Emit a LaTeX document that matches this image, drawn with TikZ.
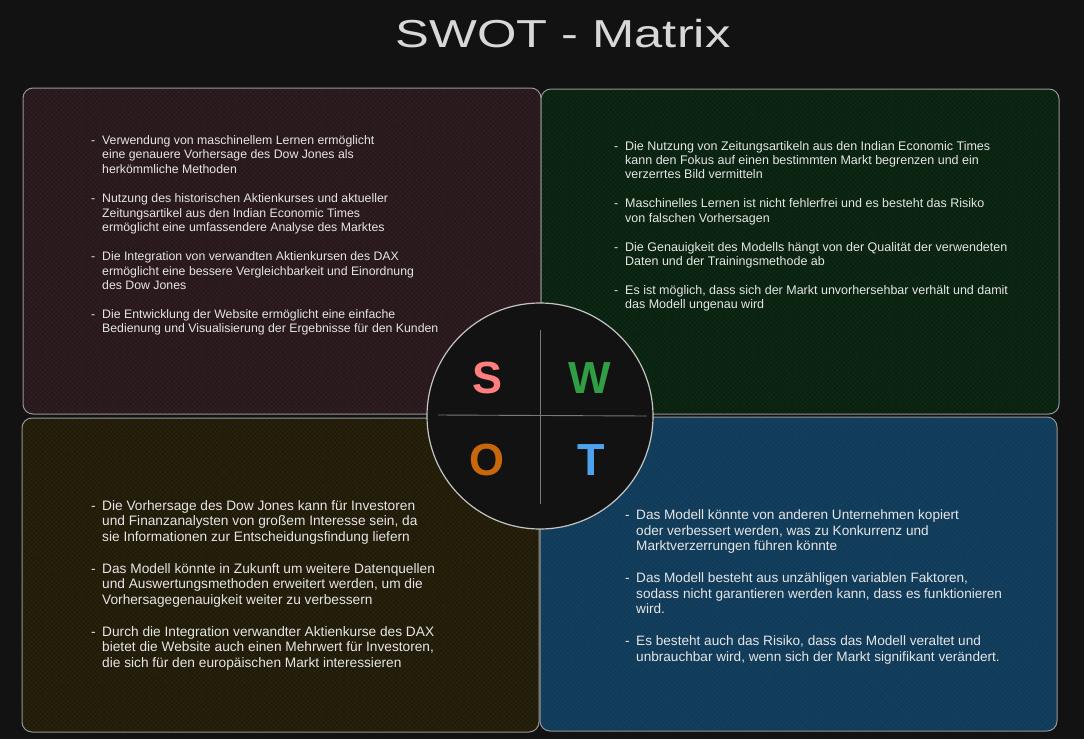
\documentclass[tikz,border=0pt]{standalone}
\usepackage{fontspec}
\setmainfont{Liberation Sans}
\usetikzlibrary{patterns.meta}
\definecolor{bg}{HTML}{121212}
\definecolor{boxline}{HTML}{959595}
\definecolor{circline}{HTML}{C4C4C4}
\definecolor{crossline}{HTML}{7A7A7A}
\definecolor{txtc}{HTML}{E6E6E6}
\definecolor{titlec}{HTML}{D8D8D8}
\definecolor{sbase}{HTML}{2E1D21}
\definecolor{shatch}{HTML}{221418}
\definecolor{wbase}{HTML}{0D2814}
\definecolor{whatch}{HTML}{081C0D}
\definecolor{obase}{HTML}{28210C}
\definecolor{ohatch}{HTML}{1B1607}
\definecolor{tbase}{HTML}{14405F}
\definecolor{thatch}{HTML}{103754}
\definecolor{sletter}{HTML}{FF7E7E}
\definecolor{wletter}{HTML}{2F9E44}
\definecolor{oletter}{HTML}{C8680A}
\definecolor{tletter}{HTML}{4DA3EE}
\newcommand\dsh{\makebox[11pt][l]{-}}
\newcommand\ind{\makebox[11pt]{}}
\begin{document}
\begin{tikzpicture}[x=1pt,y=-1pt,
  quad/.style 2 args={preaction={fill=#1},
    preaction={pattern={Lines[angle=45,distance=3.2pt,line width=0.35pt]},pattern color=#2},
    pattern={Lines[angle=-45,distance=3.2pt,line width=0.35pt]},pattern color=#2,
    draw=boxline, line width=1pt, rounded corners=10pt, inner sep=0pt},
  txt/.style={text=txtc, align=left, anchor=north west, inner sep=0pt},
  letter/.style={font=\fontsize{45}{45}\selectfont\bfseries, inner sep=0pt},
  cross/.style={draw=crossline, line width=0.9pt}
]
\fill[bg] (0,0) rectangle (1084,739);
\useasboundingbox (0,0) rectangle (1084,739);

\node[text=titlec, inner sep=0pt] (title) at (563,34)
  {\fontsize{39}{40}\selectfont\scalebox{1.3}[1]{SWOT - Matrix}};

\node[quad={sbase}{shatch}, minimum width=518pt, minimum height=326pt] (Sbox) at (282,251) {};
\node[quad={wbase}{whatch}, minimum width=518pt, minimum height=325pt] (Wbox) at (800,251.5) {};
\node[quad={obase}{ohatch}, minimum width=517pt, minimum height=314pt] (Obox) at (280.5,575) {};
\node[quad={tbase}{thatch}, minimum width=517pt, minimum height=314pt] (Tbox) at (798.5,574) {};

\node[txt, font=\fontsize{12.3}{14.5}\selectfont] (Stext) at (91,135) {%
\dsh Verwendung von maschinellem Lernen ermöglicht\\
\ind eine genauere Vorhersage des Dow Jones als\\
\ind herkömmliche Methoden\\[15pt]
\dsh Nutzung des historischen Aktienkurses und aktueller\\
\ind Zeitungsartikel aus den Indian Economic Times\\
\ind ermöglicht eine umfassendere Analyse des Marktes\\[14.5pt]
\dsh Die Integration von verwandten Aktienkursen des DAX\\
\ind ermöglicht eine bessere Vergleichbarkeit und Einordnung\\
\ind des Dow Jones\\[14pt]
\dsh Die Entwicklung der Website ermöglicht eine einfache\\
\ind Bedienung und Visualisierung der Ergebnisse für den Kunden};

\node[txt, font=\fontsize{12.5}{14.2}\selectfont] (Wtext) at (614,141) {%
\dsh Die Nutzung von Zeitungsartikeln aus den Indian Economic Times\\
\ind kann den Fokus auf einen bestimmten Markt begrenzen und ein\\
\ind verzerrtes Bild vermitteln\\[15pt]
\dsh Maschinelles Lernen ist nicht fehlerfrei und es besteht das Risiko\\
\ind von falschen Vorhersagen\\[15pt]
\dsh Die Genauigkeit des Modells hängt von der Qualität der verwendeten\\
\ind Daten und der Trainingsmethode ab\\[14.5pt]
\dsh Es ist möglich, dass sich der Markt unvorhersehbar verhält und damit\\
\ind das Modell ungenau wird};

\node[txt, font=\fontsize{13.7}{15.3}\selectfont] (Otext) at (91,500.5) {%
\dsh Die Vorhersage des Dow Jones kann für Investoren\\
\ind und Finanzanalysten von großem Interesse sein, da\\
\ind sie Informationen zur Entscheidungsfindung liefern\\[17pt]
\dsh Das Modell könnte in Zukunft um weitere Datenquellen\\
\ind und Auswertungsmethoden erweitert werden, um die\\
\ind Vorhersagegenauigkeit weiter zu verbessern\\[17pt]
\dsh Durch die Integration verwandter Aktienkurse des DAX\\
\ind bietet die Website auch einen Mehrwert für Investoren,\\
\ind die sich für den europäischen Markt interessieren};

\node[txt, font=\fontsize{13.6}{15.5}\selectfont] (Ttext) at (625,509.5) {%
\dsh Das Modell könnte von anderen Unternehmen kopiert\\
\ind oder verbessert werden, was zu Konkurrenz und\\
\ind Marktverzerrungen führen könnte\\[16.5pt]
\dsh Das Modell besteht aus unzähligen variablen Faktoren,\\
\ind sodass nicht garantieren werden kann, dass es funktionieren\\
\ind wird.\\[16.5pt]
\dsh Es besteht auch das Risiko, dass das Modell veraltet und\\
\ind unbrauchbar wird, wenn sich der Markt signifikant verändert.};

\node[circle, fill=bg, draw=circline, line width=1.2pt, minimum size=226pt, inner sep=0pt] (C) at (540,416) {};
\coordinate (vt) at (540,330);
\coordinate (vb) at (540,504);
\coordinate (hl) at (438,415);
\coordinate (hr) at (647,416);
\draw[cross] (vt) -- (vb);
\draw[cross] (hl) -- (hr);

\node[letter, text=sletter] (S) at (488,378) {S};
\node[letter, text=wletter] (W) at (590,378) {W};
\node[letter, text=oletter] (O) at (487,460) {O};
\node[letter, text=tletter] (T) at (591,460) {T};
\end{tikzpicture}
\end{document}
